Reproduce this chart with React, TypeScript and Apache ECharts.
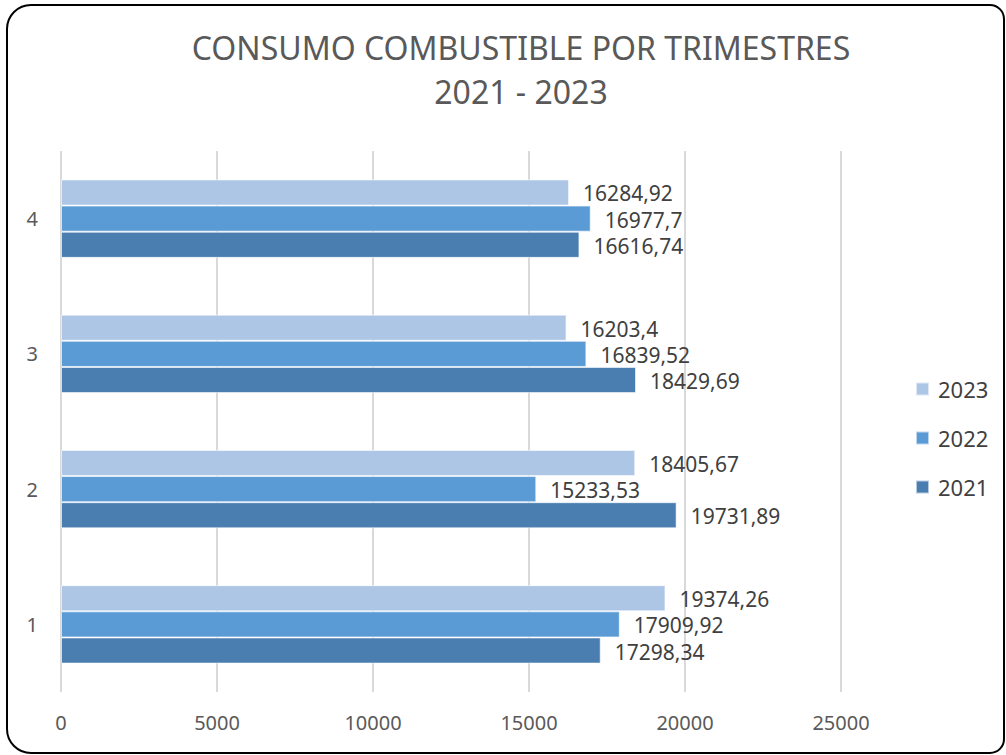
import React, { useEffect, useRef } from "react";
import * as echarts from "echarts";

const categories = ["1", "2", "3", "4"];
const values2021 = [17298.34, 19731.89, 18429.69, 16616.74];
const values2022 = [17909.92, 15233.53, 16839.52, 16977.7];
const values2023 = [19374.26, 18405.67, 16203.4, 16284.92];
const seriesNames = ["2023", "2022", "2021"];
const legendOrder = ["2023", "2022", "2021"];
const colors = ["#adc6e6", "#5b9bd5", "#4a7eb0"];

const FONT = "'Noto Sans', sans-serif";

export default function App() {
  const ref = useRef<HTMLDivElement>(null);
  useEffect(() => {
    document.body.style.margin = "0";
    const chart = echarts.init(ref.current!, null, { renderer: "svg" });
    const fmt = (p: any) => String(p.value).replace(".", ",");
    const data = [values2023, values2022, values2021];
    chart.setOption({
      animation: false,
      backgroundColor: "#ffffff",
      textStyle: { fontFamily: FONT },
      title: {
        text: "CONSUMO COMBUSTIBLE POR TRIMESTRES\n2021 - 2023",
        left: 516,
        top: 20,
        textAlign: "center",
        textStyle: {
          fontFamily: FONT,
          fontSize: 32,
          fontWeight: "normal",
          color: "#595959",
          lineHeight: 44,
        },
      },
      legend: {
        orient: "vertical",
        left: 910,
        top: 372,
        itemWidth: 13,
        itemHeight: 13,
        itemGap: 25,
        icon: "rect",
        data: legendOrder,
        textStyle: { fontFamily: FONT, fontSize: 22, lineHeight: 24, color: "#404040", padding: [0, 0, 0, 4] },
      },
      grid: { left: 61, right: 1006 - 841, top: 151, bottom: 755 - 692, containLabel: false },
      xAxis: {
        type: "value",
        min: 0,
        max: 25000,
        interval: 5000,
        axisLine: { show: false },
        axisTick: { show: false },
        axisLabel: { fontFamily: FONT, fontSize: 20, color: "#595959", margin: 20, formatter: (v: number) => String(v) },
        splitLine: { lineStyle: { color: "#d9d9d9", width: 2 } },
      },
      yAxis: {
        type: "category",
        data: categories,
        axisLine: { show: false },
        axisTick: { show: false },
        axisLabel: { fontFamily: FONT, fontSize: 20, color: "#595959", margin: 23 },
      },
      series: seriesNames.map((name, i) => ({
        name,
        type: "bar",
        data: data[i],
        barGap: "0%",
        barCategoryGap: "42%",
        itemStyle: { color: colors[i], borderColor: "rgba(255,255,255,0.6)", borderWidth: 1 },
        label: {
          show: true,
          position: "right",
          distance: 14,
          formatter: fmt,
          fontFamily: FONT,
          fontSize: 21,
          color: "#404040",
          offset: [0, 1],
        },
      })),
      graphic: [
        {
          type: "rect",
          shape: { x: 7, y: 5, width: 997, height: 748, r: [24, 14, 14, 24] },
          style: { fill: "none", stroke: "#000000", lineWidth: 2 },
          z: 100,
        },
      ],
    });
    return () => chart.dispose();
  }, []);
  return <div ref={ref} style={{ width: 1006, height: 755 }} />;
}
